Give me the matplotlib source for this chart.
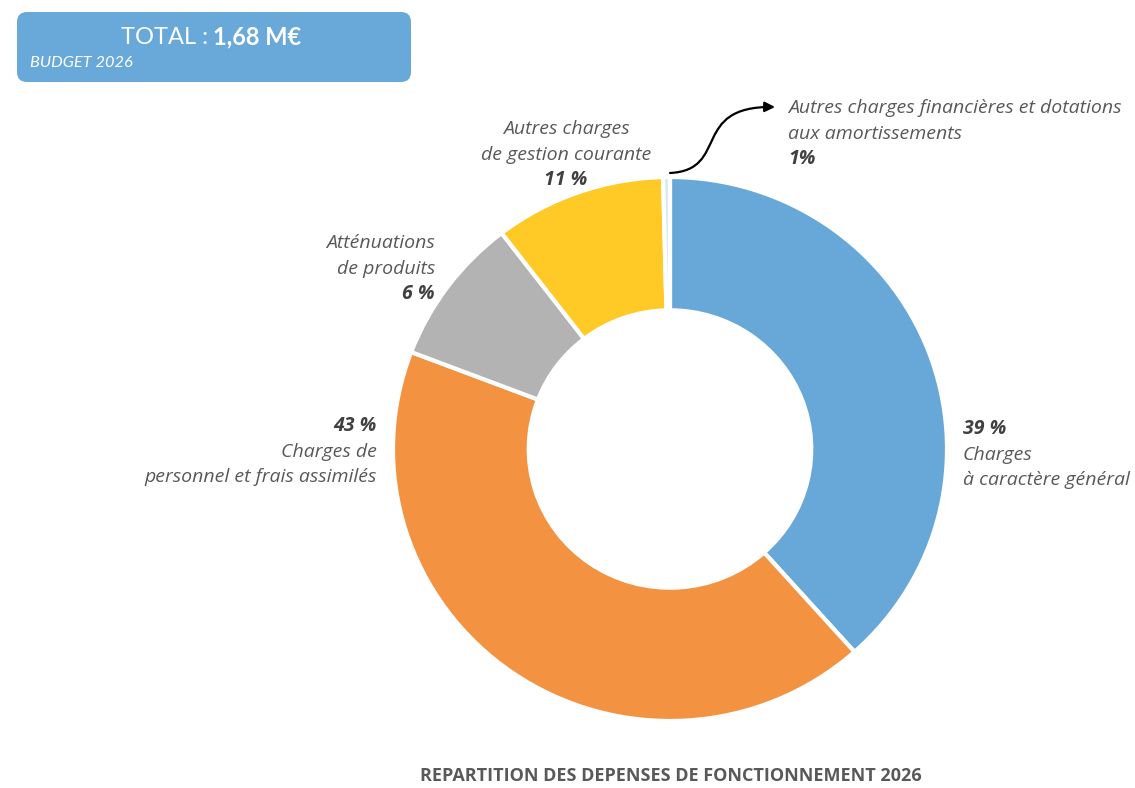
"""Donut chart: répartition des dépenses de fonctionnement 2026."""

import matplotlib
matplotlib.use("Agg")
import matplotlib.pyplot as plt
from matplotlib.patches import FancyBboxPatch, FancyArrowPatch
from matplotlib.path import Path

plt.rcParams["font.family"] = ["Lato", "DejaVu Sans"]
LABEL_FONT = ["Open Sans", "DejaVu Sans"]

# Slice sizes as drawn, clockwise from 12 o'clock
categories = [
    "Charges à caractère général",
    "Charges de personnel et frais assimilés",
    "Atténuations de produits",
    "Autres charges de gestion courante",
    "Autres charges financières et dotations aux amortissements",
]
values = [38.4, 42.4, 8.8, 10.0, 0.4]
pct_labels = ["39 %", "43 %", "6 %", "11 %", "1%"]
colors = ["#67a8d9", "#f39342", "#b3b3b3", "#ffc926", "#dbe8f4"]

total_label = "1,68 M€"
budget_label = "BUDGET 2026"
title = "REPARTITION DES DEPENSES DE FONCTIONNEMENT 2026"

W, H = 1135, 788
fig = plt.figure(figsize=(W / 100, H / 100), dpi=100)
fig.patch.set_facecolor("white")

# donut axes: centre (670, 449) px, slightly wider than tall as in the source
cx, cy, rx, ry = 670, 449, 277, 272
ax = fig.add_axes([(cx - rx) / W, (H - cy - ry) / H, 2 * rx / W, 2 * ry / H])
ax.pie(values, colors=colors, startangle=90, counterclock=False, radius=1,
       wedgeprops=dict(width=0.49, edgecolor="white", linewidth=3))
ax.set_xlim(-1, 1)
ax.set_ylim(-1, 1)
ax.set_aspect("auto")
ax.axis("off")

# overlay in pixel coordinates for texts and decorations
ov = fig.add_axes([0, 0, 1, 1], zorder=5)
ov.set_xlim(0, W)
ov.set_ylim(H, 0)
ov.axis("off")

grey = "#595959"
dark = "#404040"
fs = 14

box = FancyBboxPatch((17, 12), 394, 70, boxstyle="round,pad=0,rounding_size=10",
                     facecolor="#68a9da", edgecolor="none")
ov.add_patch(box)
ov.text(208, 37, "TOTAL :", color="white", fontsize=17, ha="right", va="center")
ov.text(213, 37, total_label, color="white", fontsize=17, fontweight="bold",
        ha="left", va="center")
ov.text(30, 63, budget_label, color="white", fontsize=11.8, style="italic",
        ha="left", va="center")


def label(x, y, lines, ha, step=25.5):
    for i, (txt, bold) in enumerate(lines):
        ov.text(x, y + i * step, txt, fontsize=fs, style="italic",
                family=LABEL_FONT,
                fontweight="bold" if bold else "normal",
                color=dark if bold else grey, ha=ha, va="center")


label(566, 129, [("Autres charges", False), ("de gestion courante", False),
                 (pct_labels[3], True)], "center")
label(435, 243, [("Atténuations", False), ("de produits", False),
                 (pct_labels[2], True)], "right")
label(377, 426, [(pct_labels[1], True), ("Charges de", False),
                 ("personnel et frais assimilés", False)], "right")
label(963, 429, [(pct_labels[0], True), ("Charges", False),
                 ("à caractère général", False)], "left")
label(788, 108, [("Autres charges financières et dotations", False),
                 ("aux amortissements", False), (pct_labels[4], True)], "left")

# curved arrow from the 1 % slice to its label
verts = [(670, 173), (730, 170), (690, 106), (775, 107)]
codes = [Path.MOVETO, Path.CURVE4, Path.CURVE4, Path.CURVE4]
arrow = FancyArrowPatch(path=Path(verts, codes), arrowstyle="-|>,head_length=6,head_width=3",
                        color="black", linewidth=1.6)
ov.add_patch(arrow)

ov.text(671, 776, title, color=grey, fontsize=13, fontweight="bold",
        family=LABEL_FONT, ha="center", va="center")

fig.savefig("out.png", dpi=100, facecolor="white")
